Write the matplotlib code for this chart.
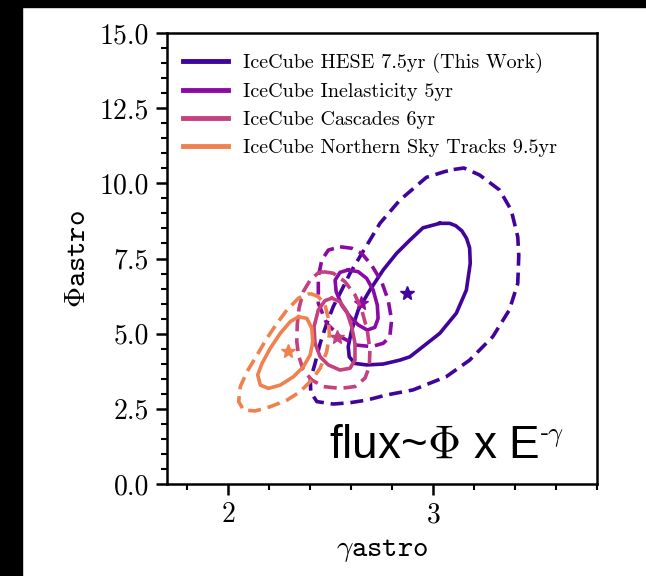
import matplotlib
matplotlib.use('Agg')
import matplotlib.pyplot as plt
from matplotlib.lines import Line2D
from matplotlib.patches import Rectangle
from matplotlib.ticker import MultipleLocator, FormatStrFormatter

plt.rcParams['font.family'] = 'serif'
plt.rcParams['font.serif'] = ['cmr10']
plt.rcParams['mathtext.fontset'] = 'cm'
plt.rcParams['axes.formatter.use_mathtext'] = True

# labels and colours of the four measurements
labels = ['IceCube HESE 7.5yr (This Work)', 'IceCube Inelasticity 5yr',
          'IceCube Cascades 6yr', 'IceCube Northern Sky Tracks 9.5yr']
colors = ['#40049c', '#8b0aa5', '#c5407e', '#f0804e']

# best fit points (gamma, phi)
best_gamma = [2.872, 2.646, 2.529, 2.293]
best_phi = [6.34, 6.01, 4.90, 4.43]

# 68% contours (gamma, phi)
hese_68 = [(3.032, 8.67), (3.080, 8.67), (3.110, 8.59), (3.140, 8.42), (3.163, 8.17),
           (3.178, 7.85), (3.181, 7.34), (3.162, 6.45), (3.113, 5.68), (3.032, 5.01),
           (2.918, 4.40), (2.886, 4.23), (2.837, 4.12), (2.756, 3.99), (2.675, 3.96),
           (2.618, 4.01), (2.590, 4.23), (2.585, 4.57), (2.602, 5.12), (2.634, 5.79),
           (2.691, 6.45), (2.756, 7.12), (2.821, 7.67), (2.886, 8.11), (2.950, 8.52)]
inel_68 = [(2.585, 7.12), (2.634, 7.06), (2.675, 6.84), (2.707, 6.45), (2.727, 5.95),
           (2.731, 5.51), (2.715, 5.21), (2.678, 5.12), (2.634, 5.29), (2.594, 5.56),
           (2.553, 5.95), (2.526, 6.40), (2.521, 6.78), (2.545, 7.04)]
casc_68 = [(2.505, 6.18), (2.545, 6.06), (2.578, 5.73), (2.602, 5.23), (2.618, 4.68),
           (2.618, 4.12), (2.594, 3.85), (2.545, 3.79), (2.488, 3.96), (2.448, 4.23),
           (2.423, 4.68), (2.418, 5.23), (2.439, 5.79), (2.472, 6.10)]
nst_68 = [(2.342, 5.56), (2.383, 5.51), (2.407, 5.18), (2.412, 4.73), (2.399, 4.29),
          (2.366, 3.90), (2.318, 3.57), (2.253, 3.29), (2.196, 3.18), (2.156, 3.29),
          (2.143, 3.63), (2.164, 4.01), (2.204, 4.51), (2.253, 5.01), (2.302, 5.40)]

# 95% contours
hese_95 = [(3.100, 10.46), (3.150, 10.51), (3.226, 10.28), (3.324, 9.78), (3.381, 9.11),
           (3.413, 8.22), (3.418, 7.60), (3.413, 6.67), (3.372, 5.79), (3.291, 4.90),
           (3.178, 4.12), (3.064, 3.57), (2.902, 3.13), (2.772, 2.96), (2.675, 2.79),
           (2.590, 2.70), (2.512, 2.66), (2.432, 2.74), (2.402, 3.05), (2.400, 3.46),
           (2.423, 4.01), (2.448, 4.68), (2.480, 5.34), (2.512, 5.90), (2.553, 6.45),
           (2.594, 7.01), (2.642, 7.56), (2.691, 8.11), (2.740, 8.67), (2.837, 9.44),
           (2.967, 10.20), (3.056, 10.39)]
inel_95 = [(2.545, 7.89), (2.602, 7.84), (2.651, 7.67), (2.699, 7.28), (2.748, 6.73),
           (2.780, 6.12), (2.797, 5.45), (2.788, 4.90), (2.756, 4.68), (2.699, 4.57),
           (2.626, 4.62), (2.545, 4.90), (2.480, 5.34), (2.439, 6.01), (2.439, 6.89),
           (2.456, 7.45), (2.488, 7.78)]
casc_95 = [(2.464, 7.06), (2.512, 7.01), (2.569, 6.73), (2.618, 6.29), (2.651, 5.79),
           (2.678, 5.12), (2.691, 4.46), (2.688, 3.90), (2.667, 3.52), (2.618, 3.24),
           (2.545, 3.18), (2.464, 3.24), (2.407, 3.46), (2.365, 3.79), (2.342, 4.29),
           (2.334, 4.73), (2.336, 5.29), (2.345, 5.85), (2.365, 6.39), (2.399, 6.78),
           (2.438, 7.02)]
nst_95 = [(2.399, 6.34), (2.439, 6.23), (2.472, 5.95), (2.488, 5.51), (2.493, 4.96),
          (2.480, 4.40), (2.448, 3.85), (2.407, 3.46), (2.350, 3.07), (2.286, 2.79),
          (2.204, 2.57), (2.131, 2.43), (2.074, 2.46), (2.050, 2.74), (2.058, 3.24),
          (2.091, 3.74), (2.140, 4.29), (2.188, 4.85), (2.237, 5.34), (2.286, 5.79),
          (2.342, 6.18)]

contours_68 = [hese_68, inel_68, casc_68, nst_68]
contours_95 = [hese_95, inel_95, casc_95, nst_95]


def draw_contour(ax, pts, color, ls):
    # close the curve by repeating the first point
    xs = [p[0] for p in pts] + [pts[0][0]]
    ys = [p[1] for p in pts] + [pts[0][1]]
    ax.plot(xs, ys, color=color, lw=2.6, ls=ls, solid_joinstyle='round',
            dash_joinstyle='round', dash_capstyle='butt')


fig = plt.figure(figsize=(6.46, 5.76), dpi=100)
# black border on the left and top of the screenshot
fig.patches.append(Rectangle((0, 0), 22 / 646, 1, transform=fig.transFigure,
                             color='black', zorder=-10))
fig.patches.append(Rectangle((0, 1 - 7 / 576), 1, 7 / 576, transform=fig.transFigure,
                             color='black', zorder=-10))

ax = fig.add_axes([167 / 646, 1 - 484 / 576, 430 / 646, 451 / 576])

for i in range(4):
    draw_contour(ax, contours_95[i], colors[i], (0, (3.6, 1.9)))
    draw_contour(ax, contours_68[i], colors[i], '-')
    ax.plot(best_gamma[i], best_phi[i], marker='*', color=colors[i], ms=10, ls='none')

ax.set_xlim(1.70, 3.80)
ax.set_ylim(0, 15)
ax.xaxis.set_major_locator(MultipleLocator(1))
ax.xaxis.set_minor_locator(MultipleLocator(0.2))
ax.yaxis.set_major_locator(MultipleLocator(2.5))
ax.yaxis.set_minor_locator(MultipleLocator(0.5))
ax.yaxis.set_major_formatter(FormatStrFormatter('%.1f'))
ax.tick_params(which='major', direction='out', length=8, width=1.8, labelsize=20, pad=5)
ax.tick_params(which='minor', direction='out', length=4.5, width=1.5)
for sp in ax.spines.values():
    sp.set_linewidth(1.8)

ax.set_xlabel(r'$\gamma\mathtt{astro}$', fontsize=21, labelpad=6)
ax.set_ylabel(r'$\Phi\mathtt{astro}$', fontsize=21, labelpad=6)

handles = [Line2D([], [], color=c, lw=3.5) for c in colors]
ax.legend(handles, labels, loc='upper left', frameon=False, fontsize=14.5,
          handlelength=2.2, handletextpad=0.75, labelspacing=0.48,
          bbox_to_anchor=(-0.009, 1.0), borderaxespad=0.6)

flux = ax.text(0.377, 0.058, r'flux~$\Phi$ x E', transform=ax.transAxes,
               fontsize=33, family='Liberation Sans', va='baseline', ha='left')
ax.annotate(r'-$\gamma$', xy=(1.0, 0.62), xycoords=flux, va='baseline', ha='left',
            fontsize=19, family='Liberation Sans')

fig.savefig('out.png', dpi=100)
